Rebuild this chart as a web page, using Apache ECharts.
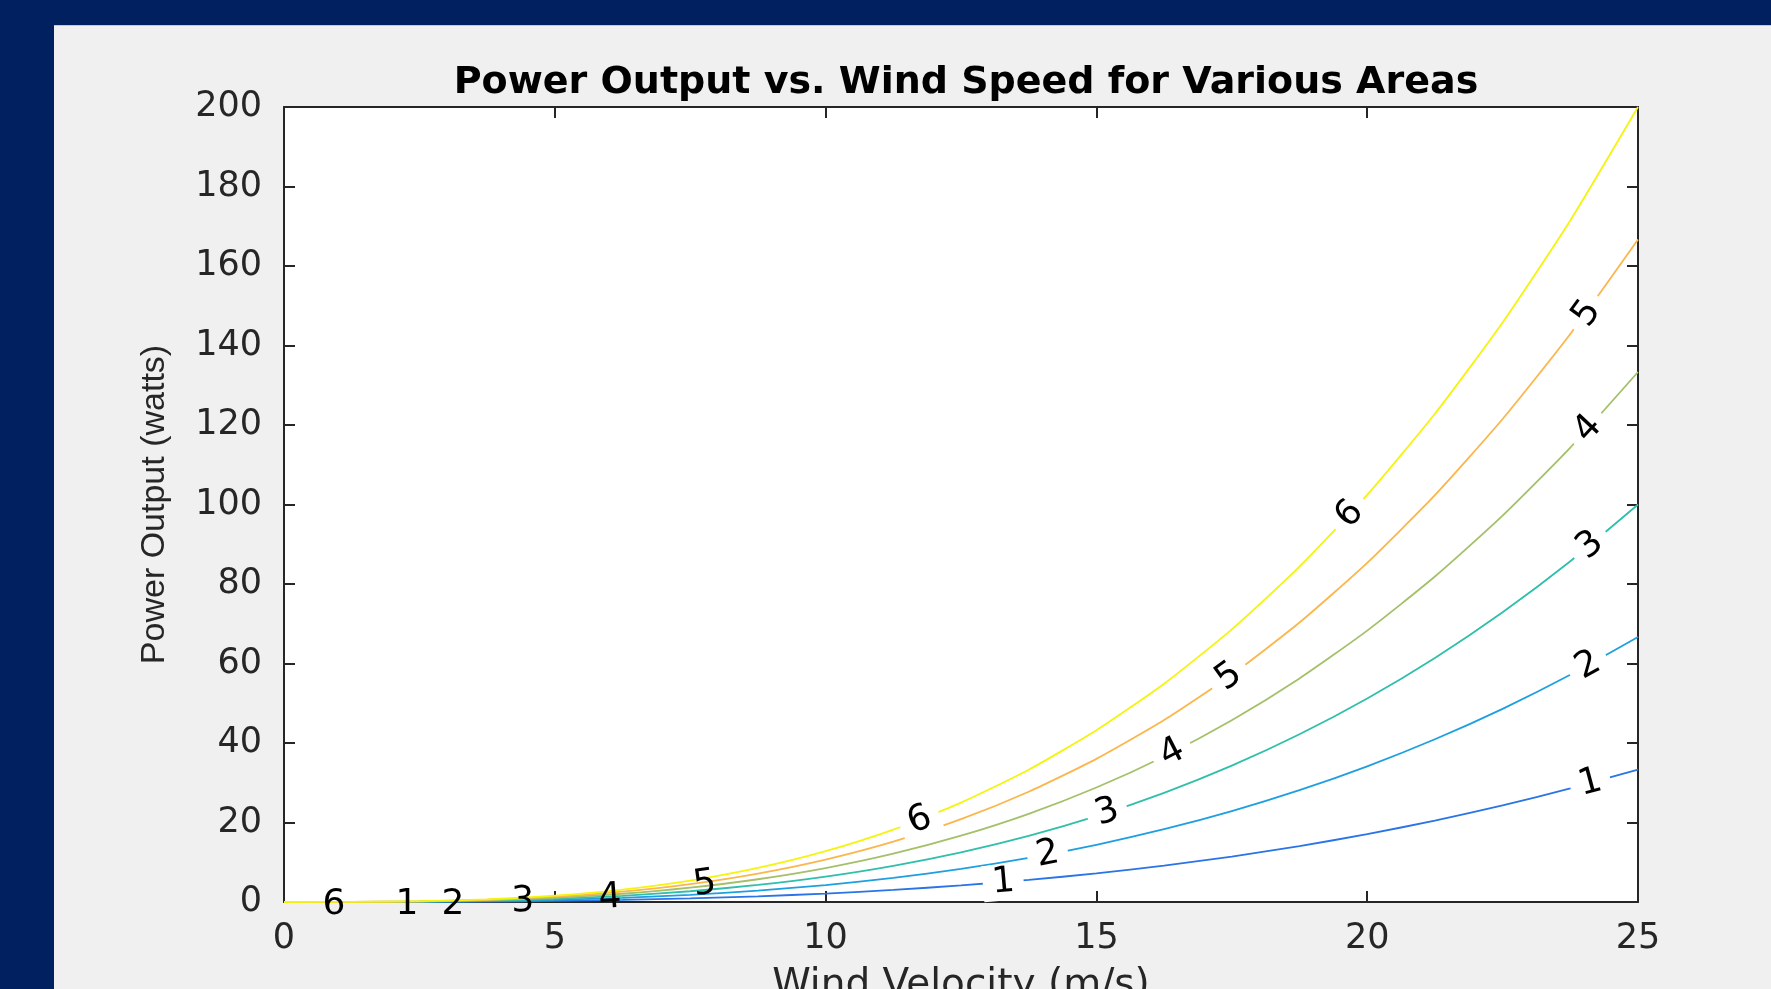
<!DOCTYPE html>
<html>
<head>
<meta charset="utf-8">
<script src="https://cdn.jsdelivr.net/npm/echarts@6/dist/echarts.min.js"></script>
<style>
  html, body { margin: 0; padding: 0; width: 1771px; height: 989px; background: #002060; overflow: hidden; }
  #panel { position: absolute; left: 54px; top: 25px; width: 1717px; height: 964px; background: #f0f0f0; border-top: 1px solid #c8c8c8; box-sizing: border-box; }
  #chart { position: absolute; left: 0; top: -1px; width: 1717px; height: 964px; }
</style>
</head>
<body>
<div id="panel"><div id="chart"></div></div>
<script>
// Wind velocity samples (m/s)
const velocity = [0, 1.25, 2.5, 3.75, 5, 6.25, 7.5, 8.75, 10, 11.25, 12.5, 13.75, 15, 16.25, 17.5, 18.75, 20, 21.25, 22.5, 23.75, 25];
// Power output (watts), areas 1..6
const area1 = [0, 0, 0.03, 0.11, 0.27, 0.52, 0.9, 1.43, 2.13, 3.04, 4.17, 5.55, 7.2, 9.15, 11.43, 14.06, 17.07, 20.47, 24.3, 28.58, 33.33];
const area2 = [0, 0.01, 0.07, 0.22, 0.53, 1.04, 1.8, 2.86, 4.27, 6.07, 8.33, 11.09, 14.4, 18.31, 22.87, 28.13, 34.13, 40.94, 48.6, 57.16, 66.67];
const area3 = [0, 0.01, 0.1, 0.34, 0.8, 1.56, 2.7, 4.29, 6.4, 9.11, 12.5, 16.64, 21.6, 27.46, 34.3, 42.19, 51.2, 61.41, 72.9, 85.74, 100];
const area4 = [0, 0.02, 0.13, 0.45, 1.07, 2.08, 3.6, 5.72, 8.53, 12.15, 16.67, 22.18, 28.8, 36.62, 45.73, 56.25, 68.27, 81.88, 97.2, 114.32, 133.33];
const area5 = [0, 0.02, 0.17, 0.56, 1.33, 2.6, 4.5, 7.15, 10.67, 15.19, 20.83, 27.73, 36, 45.77, 57.17, 70.31, 85.33, 102.35, 121.5, 142.9, 166.67];
const area6 = [0, 0.03, 0.2, 0.67, 1.6, 3.13, 5.4, 8.58, 12.8, 18.22, 25, 33.28, 43.2, 54.92, 68.6, 84.38, 102.4, 122.82, 145.8, 171.47, 200];
const areaLevels = [1, 2, 3, 4, 5, 6];

// Contour labels: level, velocity, power
const labelLevel = [6, 1, 2, 3, 4, 5, 6, 1, 2, 3, 4, 5, 6, 1, 2, 3, 4, 5];
const labelVel   = [0.92, 2.27, 3.12, 4.41, 6.02, 7.77, 11.74, 13.28, 14.1, 15.2, 16.4, 17.45, 19.68, 24.12, 24.08, 24.12, 24.08, 24.06];
const labelPow   = [-0.6, -0.6, -0.7, 0.0, 1.0, 4.4, 20.5, 4.9, 11.9, 22.5, 37.5, 56.6, 97.5, 29.9, 59.5, 89.7, 119, 148];

// styles
const labelAngle = [0, 0, 0, 1, 4, 8, 21, 5, 11, 18, 27, 36, 47, 15, 29, 39, 47, 54];
const labelGap   = [false, false, false, false, false, false, true, true, true, true, true, true, true, true, true, true, true, true];
const curveColors = ['#2a74e6', '#1e9fe0', '#2fbfaa', '#a4c069', '#fbb64c', '#f4f40e'];

const areaData = [area1, area2, area3, area4, area5, area6];
const axisColor = '#262626';

const lineSeries = areaData.map((arr, i) => ({
  name: 'A=' + areaLevels[i],
  type: 'line',
  xAxisIndex: 0, yAxisIndex: 0,
  data: arr.map((p, j) => [velocity[j], p]),
  smooth: 0.2,
  symbol: 'none',
  lineStyle: { color: curveColors[i], width: 1.8 },
  z: 3
}));

const labelSeries = {
  type: 'scatter',
  xAxisIndex: 0, yAxisIndex: 0,
  clip: false,
  symbolSize: 2,
  itemStyle: { color: 'rgba(255,255,255,0)' },
  z: 5,
  data: labelLevel.map((lv, k) => ({
    value: [labelVel[k], labelPow[k]],
    label: {
      show: true,
      position: 'inside',
      formatter: String(lv),
      rotate: labelAngle[k],
      fontFamily: 'DejaVu Sans',
      fontSize: 36,
      color: '#000',
      opacity: 1,
      backgroundColor: labelGap[k] ? '#ffffff' : 'transparent',
      padding: labelGap[k] ? [0, 9] : 0,
      align: 'center',
      verticalAlign: 'middle'
    }
  }))
};

const chart = echarts.init(document.getElementById('chart'));
chart.setOption({
  backgroundColor: 'transparent',
  animation: false,
  title: {
    text: 'Power Output vs. Wind Speed for Various Areas',
    left: 907,
    textAlign: 'center',
    top: 34,
    textStyle: { fontFamily: 'DejaVu Sans', fontWeight: 'bold', fontSize: 38, color: '#000' }
  },
  grid: { left: 230, top: 82, width: 1354, height: 795, show: true, backgroundColor: '#ffffff', borderWidth: 0, containLabel: false, outerBoundsMode: 'none' },
  xAxis: [{
    type: 'value', position: 'bottom', min: 0, max: 25, interval: 5,
    name: 'Wind Velocity (m/s)', nameLocation: 'middle', nameGap: 64,
    nameTextStyle: { fontFamily: 'DejaVu Sans', fontSize: 39, color: axisColor },
    axisLine: { show: true, onZero: false, lineStyle: { color: axisColor, width: 2 } },
    axisTick: { show: true, inside: true, length: 11, lineStyle: { color: axisColor, width: 2 } },
    axisLabel: { margin: 19, fontFamily: 'DejaVu Sans', fontSize: 35, color: axisColor },
    splitLine: { show: false }
  }, {
    type: 'value', position: 'top', min: 0, max: 25, interval: 5,
    axisLine: { show: true, onZero: false, lineStyle: { color: axisColor, width: 2 } },
    axisTick: { show: true, inside: true, length: 11, lineStyle: { color: axisColor, width: 2 } },
    axisLabel: { show: false },
    splitLine: { show: false }
  }],
  yAxis: [{
    type: 'value', position: 'left', min: 0, max: 200, interval: 20,
    name: 'Power Output (watts)', nameLocation: 'middle', nameGap: 112, nameRotate: 90,
    nameTextStyle: { fontFamily: 'Liberation Sans', fontSize: 34, color: axisColor },
    axisLine: { show: true, onZero: false, lineStyle: { color: axisColor, width: 2 } },
    axisTick: { show: true, inside: true, length: 11, lineStyle: { color: axisColor, width: 2 } },
    axisLabel: { margin: 22, fontFamily: 'DejaVu Sans', fontSize: 35, color: axisColor, padding: [6, 0, 0, 0] },
    splitLine: { show: false }
  }, {
    type: 'value', position: 'right', min: 0, max: 200, interval: 20,
    axisLine: { show: true, onZero: false, lineStyle: { color: axisColor, width: 2 } },
    axisTick: { show: true, inside: true, length: 11, lineStyle: { color: axisColor, width: 2 } },
    axisLabel: { show: false },
    splitLine: { show: false }
  }],
  series: lineSeries.concat([labelSeries])
});
</script>
</body>
</html>
